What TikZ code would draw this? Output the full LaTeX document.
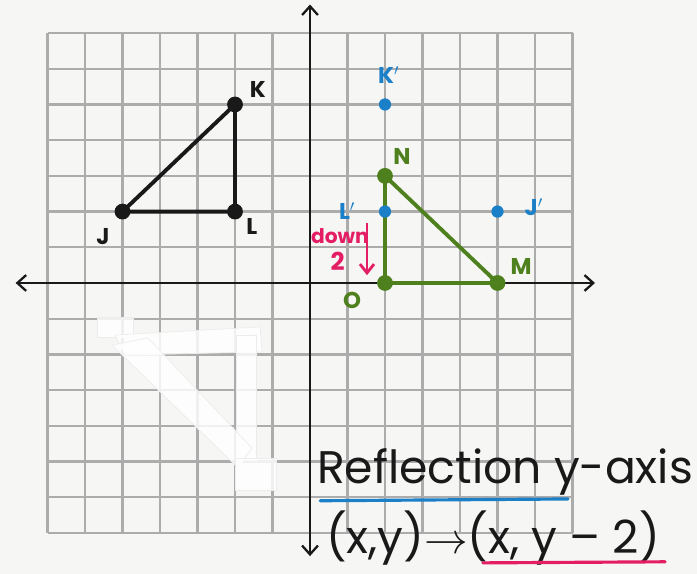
\documentclass[tikz,border=0pt]{standalone}
\usepackage{amsmath,amssymb}
\usepackage{fontspec}
\setmainfont{Poppins}
\usetikzlibrary{arrows.meta}

\definecolor{penblack}{RGB}{25,25,25}
\definecolor{pengreen}{RGB}{78,128,30}
\definecolor{penblue}{RGB}{28,128,200}
\definecolor{penpink}{RGB}{228,30,100}
\definecolor{paper}{RGB}{246,246,244}

\tikzset{
  gridline/.style={gray!65,line width=1.3pt},
  axisline/.style={penblack,line width=1.3pt,-{Straight Barb[length=5pt,width=9pt]}},
  dot/.style={circle,fill=#1,inner sep=0pt,minimum size=9pt},
  pen/.style={line width=2.2pt,line cap=round,line join=round},
  lbl/.style={font=\fontsize{13}{15}\selectfont\bfseries},
  whiteout/.style={fill=white,fill opacity=0.82,draw=gray!15,line width=0.4pt}
}

\begin{document}
\begin{tikzpicture}[x=0.75cm,y=0.714cm]
            \useasboundingbox[fill=paper] (-8.267,-8.151) rectangle (10.32,7.927);
            % grid and axes
            \draw[gridline,step=1] (-7,-7) grid (7,7);
            \coordinate (xl) at (-7.85,0);
            \coordinate (xr) at (7.6,0);
            \coordinate (yt) at (0,7.8);
            \coordinate (yb) at (0,-7.65);
            \draw[axisline] (0,0) -- (xl);
            \draw[axisline] (0,0) -- (xr);
            \draw[axisline] (0,0) -- (yt);
            \draw[axisline] (0,0) -- (yb);

            % erased triangle (correction fluid)
            \fill[whiteout] (-5.68,-0.95) rectangle (-4.72,-1.51);
            \fill[whiteout] (-5.2,-1.46) -- (-1.33,-1.23) -- (-1.28,-1.93) -- (-4.93,-2.02) -- cycle;
            \fill[whiteout] (-1.97,-1.46) rectangle (-1.44,-4.96);
            \fill[whiteout] (-5.28,-1.74) -- (-4.32,-1.54) -- (-1.55,-4.62) -- (-1.92,-5.18) -- cycle;
            \fill[whiteout] (-2,-4.9) rectangle (-0.91,-5.8);

            % original triangle JKL
            \node[dot=penblack] (J) at (-5,2) {};
            \node[dot=penblack] (K) at (-2,5) {};
            \node[dot=penblack] (L) at (-2,2) {};
            \draw[pen,penblack] (J.center) -- (K.center) -- (L.center) -- cycle;
            \node[lbl,penblack] (Jlbl) at (-5.52,1.29) {J};
            \node[lbl,penblack] (Klbl) at (-1.39,5.41) {K};
            \node[lbl,penblack] (Llbl) at (-1.55,1.57) {L};

            % reflected points
            \node[dot=penblue,minimum size=7pt] (Jp) at (5,2) {};
            \node[dot=penblue,minimum size=7pt] (Kp) at (2,5) {};
            \node[lbl,penblue] (Jplbl) at (5.97,2.13) {J$'$};
            \node[lbl,penblue] (Kplbl) at (2.1,5.83) {K$'$};

            % translated triangle NOM
            \node[dot=pengreen] (N) at (2,3) {};
            \node[dot=pengreen] (O) at (2,0) {};
            \node[dot=pengreen] (M) at (5,0) {};
            \draw[pen,pengreen] (N.center) -- (O.center) -- (M.center) -- cycle;
            \node[dot=penblue,minimum size=7pt] (Lp) at (2,2) {};
            \node[lbl,penblue] (Lplbl) at (0.99,2.02) {L$'$};
            \node[lbl,pengreen] (Nlbl) at (2.45,3.53) {N};
            \node[lbl,pengreen] (Olbl) at (1.12,-0.48) {O};
            \node[lbl,pengreen] (Mlbl) at (5.63,0.45) {M};

            % down 2
            \node[penpink,font=\fontsize{11.5}{14}\selectfont\bfseries] (down) at (0.8,1.3) {down};
            \node[penpink,font=\fontsize{14}{16}\selectfont\bfseries] (two) at (0.74,0.62) {2};
            \coordinate (ds) at (1.52,1.68);
            \coordinate (de) at (1.52,0.22);
            \draw[penpink,line width=1.6pt,-{Straight Barb[length=5pt,width=8pt]}] (ds) -- (de);

            % rule
            \node[penblack,font=\fontsize{26}{30}\selectfont] (title) at (5.2,-5.3) {Reflection y-axis};
            \coordinate (bu1) at (0.27,-6.1);
            \coordinate (bu2) at (6.88,-6.05);
            \draw[penblue,line width=1.8pt,line cap=round] (bu1) -- (bu2);
            \node[penblack,font=\fontsize{26}{30}\selectfont] (rule) at (4.88,-7.15) {(x,y)$\rightarrow$(x, y -- 2)};
            \coordinate (pu1) at (4.61,-7.84);
            \coordinate (pu2) at (9.47,-7.81);
            \draw[penpink,line width=1.8pt,line cap=round] (pu1) -- (pu2);
        \end{tikzpicture}
\end{document}
